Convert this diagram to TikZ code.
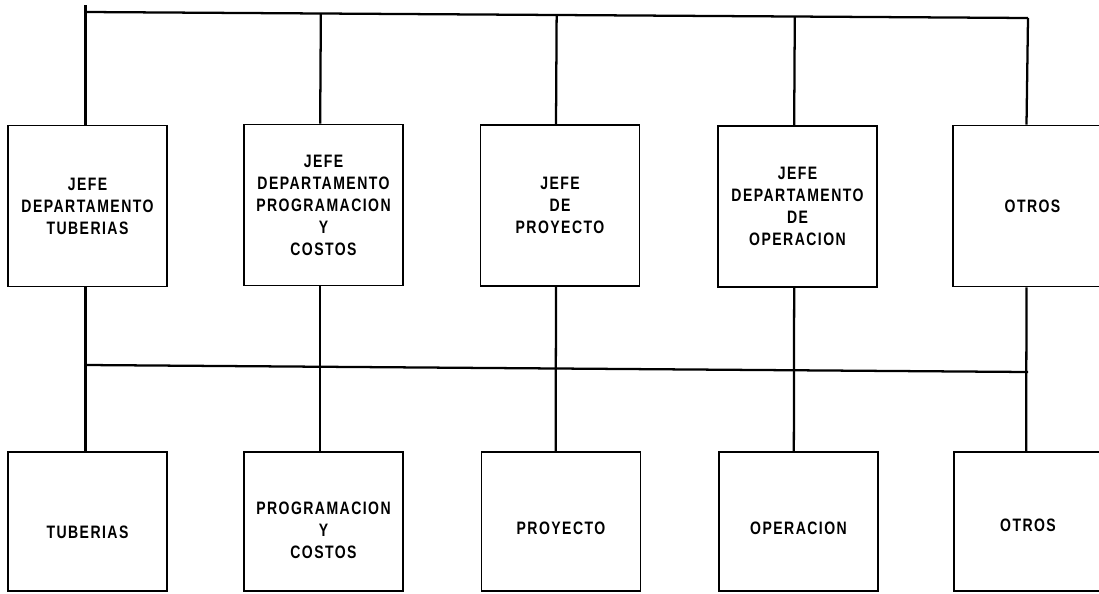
\documentclass[tikz,border=0pt]{standalone}
\usepackage{fontspec}
\setmainfont{Liberation Sans}[FakeStretch=0.78, LetterSpace=8]
\usetikzlibrary{calc}
\tikzset{
  x=0.75pt, y=-0.75pt,
  txt/.style={font=\fontsize{13.5}{16.5}\selectfont\bfseries},
  box/.style={draw, line width=1.2pt, minimum width=159*0.75pt, inner sep=0pt,
    align=center, txt},
  topbox/.style={box, minimum height=161*0.75pt},
  lowbox/.style={box, minimum height=139*0.75pt},
  lbl/.style={align=center, inner sep=0pt, txt},
  link/.style={line width=1.7pt}
}
\begin{document}
\begin{tikzpicture}
\useasboundingbox (0,0) rectangle (1099,593);
\clip (0,0) rectangle (1099,593);
% top row
\node[topbox] (b1) at (87.5,206) {JEFE\\DEPARTAMENTO\\TUBERIAS};
\node[topbox] (b2) at (323.5,205) {JEFE\\DEPARTAMENTO\\PROGRAMACION\\Y\\COSTOS};
\node[topbox] (b3) at (560,205.5) {JEFE\\DE\\PROYECTO};
\node[topbox] (b4) at (797.5,206.5) {JEFE\\DEPARTAMENTO\\DE\\OPERACION};
\node[topbox] (b5) at (1032.5,206) {OTROS};
% bottom row
\node[lowbox] (c1) at (87.5,521.5) {};
\node[lowbox] (c2) at (323.5,521.5) {};
\node[lowbox] (c3) at (561,521.5) {};
\node[lowbox] (c4) at (798.5,521.5) {};
\node[lowbox] (c5) at (1033.5,521.5) {};
\node[lbl] (t1) at (87.5,532) {TUBERIAS};
\node[lbl] (t2) at (323.5,530) {PROGRAMACION\\Y\\COSTOS};
\node[lbl] (t3) at (561,528) {PROYECTO};
\node[lbl] (t4) at (798.5,528) {OPERACION};
\node[lbl] (t5) at (1028,525) {OTROS};
% bars
\coordinate (tl) at (86,12);
\coordinate (tr) at (1028,18);
\coordinate (ml) at (86,365);
\coordinate (mr) at (1028,372);
\draw[link] (tl) -- (tr);
\draw[link] (ml) -- (mr);
% verticals top
\draw[link] ([xshift=-1.5]b1.north) -- ++(0,-120);
\draw[link] ([xshift=-2.5]b2.north) -- ($(tl)!([xshift=-2.5]b2.north)!(tr)$);
\draw[link] ([xshift=-3]b3.north) -- ($(tl)!([xshift=-3]b3.north)!(tr)$);
\draw[link] ([xshift=-2.5]b4.north) -- ($(tl)!([xshift=-2.5]b4.north)!(tr)$);
\draw[link] ([xshift=-4.5]b5.north) -- (tr);
% verticals middle
\draw[link] ([xshift=-1.5]b1.south) -- ([xshift=-1.5]c1.north);
\draw[link] ([xshift=-2.5]b2.south) -- ([xshift=-2.5]c2.north);
\draw[link] ([xshift=-3]b3.south) -- ([xshift=-4]c3.north);
\draw[link] ([xshift=-2.5]b4.south) -- ([xshift=-3.5]c4.north);
\draw[link] ([xshift=-4.5]b5.south) -- ([xshift=-5.5]c5.north);
\end{tikzpicture}
\end{document}
